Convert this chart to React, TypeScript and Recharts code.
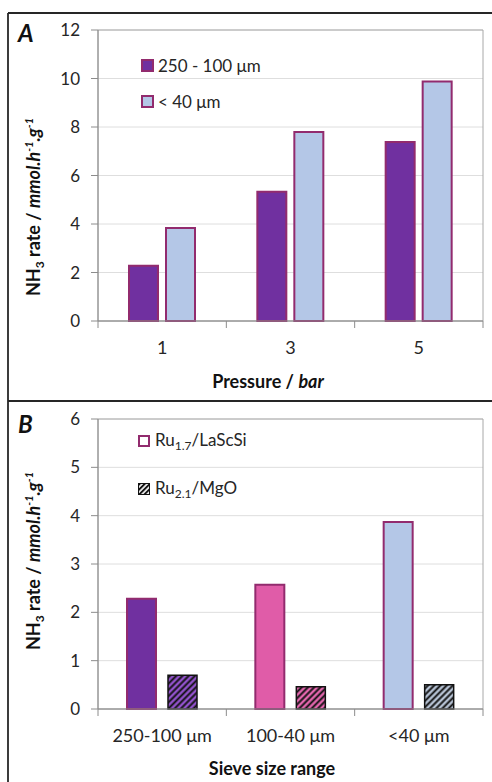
import React from 'react';
import { BarChart, Bar, XAxis, YAxis, CartesianGrid, Legend, ReferenceArea, Cell } from 'recharts';

// ---------- data ----------
const pressureLabels = ['1', '3', '5'];
const coarseRates = [2.28, 5.33, 7.38];
const fineRates = [3.83, 7.79, 9.88];
const rateTicksA = [0, 2, 4, 6, 8, 10, 12];

const sieveRanges = ['250-100 μm', '100-40 μm', '<40 μm'];
const laScSiRates = [2.28, 2.57, 3.87];
const mgoRates = [0.7, 0.46, 0.5];
const rateTicksB = [0, 1, 2, 3, 4, 5, 6];

const seriesNamesA = ['250 - 100 μm', '< 40 μm'];
const seriesNamesB = ['Ru1.7/LaScSi', 'Ru2.1/MgO'];

const dataA = pressureLabels.map((p, i) => ({ pressure: p, coarse: coarseRates[i], fine: fineRates[i] }));
const dataB = sieveRanges.map((s, i) => ({ range: s, lascsi: laScSiRates[i], mgo: mgoRates[i] }));

// ---------- styles ----------
const FONT = 'Lato, "Open Sans", sans-serif';
const PURPLE = '#7030A0';
const LIGHT = '#B4C7E7';
const PINK = '#E05CA8';
const MAROON = '#922B6E';
const sieveFills = [PURPLE, PINK, LIGHT];
const hatchBases = ['#9252CC', '#E466AE', '#B6C2D4'];
const AXIS = '#8C8C8C';
const GRID = '#DEDEDE';
const TEXT = '#262626';

const makeCatTick = (count: number) => (props: any) => {
  const { x, y, payload, index } = props;
  const half = payload && typeof payload.offset === 'number' && payload.offset > 0 ? payload.offset : 64.2;
  return (
    <g>
      <line x1={x - half} x2={x - half} y1={y} y2={y + 7} stroke={AXIS} strokeWidth={1} />
      {index === count - 1 && <line x1={x + half} x2={x + half} y1={y} y2={y + 7} stroke={AXIS} strokeWidth={1} />}
      <text x={x} y={y + 33} textAnchor="middle" fontFamily={FONT} fontSize={18} fill={TEXT}>
        {payload.value}
      </text>
    </g>
  );
};

const YTitle = ({ cx, cy }: { cx: number; cy: number }) => (
  <text
    transform={`translate(${cx},${cy}) rotate(-90)`}
    textAnchor="middle"
    fontFamily={FONT}
    fontWeight={700}
    fontSize={18}
    fill="#111"
  >
    <tspan>NH</tspan>
    <tspan fontSize={12} dy={4}>3</tspan>
    <tspan dy={-4}> rate / </tspan>
    <tspan fontStyle="italic">mmol.h</tspan>
    <tspan fontStyle="italic" fontSize={11} dy={-7}>-1</tspan>
    <tspan fontStyle="italic" dy={7}>.g</tspan>
    <tspan fontStyle="italic" fontSize={11} dy={-7}>-1</tspan>
  </text>
);

const XTitleA = () => (
  <text x={268} y={388} textAnchor="middle" fontFamily={FONT} fontWeight={700} fontSize={18} fill="#111">
    <tspan>Pressure / </tspan>
    <tspan fontStyle="italic">bar</tspan>
  </text>
);

const XTitleB = () => (
  <text x={272} y={374} textAnchor="middle" fontFamily={FONT} fontWeight={700} fontSize={18} fill="#111">
    Sieve size range
  </text>
);

const LegendA = (props: any) => {
  const payload = props.payload || [];
  return (
    <div style={{ fontFamily: FONT, fontSize: 17, color: TEXT }}>
      {payload.map((it: any, i: number) => (
        <div key={i} style={{ display: 'flex', alignItems: 'center', height: 36 }}>
          <svg width={13} height={13} style={{ marginRight: 4 }}>
            <rect x={1} y={1} width={11} height={11} fill={i === 0 ? PURPLE : LIGHT} stroke={MAROON} strokeWidth={2} />
          </svg>
          <span style={{ whiteSpace: 'nowrap' }}>{it.value}</span>
        </div>
      ))}
    </div>
  );
};

const LegendB = () => (
  <div style={{ fontFamily: FONT, fontSize: 17, color: TEXT }}>
    <div style={{ display: 'flex', alignItems: 'center', height: 48 }}>
      <svg width={12} height={12} style={{ marginRight: 5 }}>
        <rect x={1} y={1} width={10} height={10} fill="#fff" stroke={MAROON} strokeWidth={2} />
      </svg>
      <span style={{ whiteSpace: 'nowrap' }}>
        Ru<sub style={{ fontSize: 12 }}>1.7</sub>/LaScSi
      </span>
    </div>
    <div style={{ display: 'flex', alignItems: 'center', height: 48 }}>
      <svg width={12} height={12} style={{ marginRight: 5 }}>
        <defs>
          <pattern id="hatchLegend" patternUnits="userSpaceOnUse" width={3.6} height={3.6} patternTransform="rotate(45)">
            <rect width={3.6} height={3.6} fill="#fff" />
            <line x1={1.8} y1={0} x2={1.8} y2={3.6} stroke="#111" strokeWidth={2} />
          </pattern>
        </defs>
        <rect x={0.5} y={0.5} width={11} height={11} fill="url(#hatchLegend)" stroke="#111" strokeWidth={1} />
      </svg>
      <span style={{ whiteSpace: 'nowrap' }}>
        Ru<sub style={{ fontSize: 12 }}>2.1</sub>/MgO
      </span>
    </div>
  </div>
);

const tickStyle = { fontFamily: FONT, fontSize: 17, fill: TEXT };

export default function App() {
  return (
    <div style={{ position: 'absolute', left: 0, top: 0, width: 492, height: 782, background: '#fff', overflow: 'hidden' }}>
      {/* Panel A */}
      <div style={{ position: 'absolute', left: 0, top: 0 }}>
        <BarChart width={492} height={401} data={dataA} margin={{ top: 30, right: 9, bottom: 0, left: 0 }} barGap={8}>
          <CartesianGrid horizontal vertical={false} stroke={GRID} />
          <ReferenceArea y1={0} y2={12} fill="none" stroke="#A8A8A8" strokeWidth={1} ifOverflow="visible" />
          <XAxis
            dataKey="pressure"
            height={80}
            axisLine={{ stroke: AXIS }}
            tickLine={false}
            tickSize={0}
            tickMargin={0}
            interval={0}
            tick={makeCatTick(pressureLabels.length)}
            label={<XTitleA />}
          />
          <YAxis
            width={98}
            domain={[0, 12]}
            ticks={rateTicksA}
            interval={0}
            axisLine={{ stroke: AXIS }}
            tickLine={{ stroke: AXIS }}
            tickSize={7}
            tickMargin={11}
            tick={tickStyle}
            label={<YTitle cx={40} cy={207} />}
          />
          <Legend
            layout="horizontal"
            verticalAlign="middle"
            align="center"
            content={<LegendA />}
            wrapperStyle={{ top: 47, left: 141, width: 200, height: 72 }}
          />
          <Bar dataKey="coarse" name={seriesNamesA[0]} fill={PURPLE} stroke={MAROON} strokeWidth={2} barSize={29} isAnimationActive={false} />
          <Bar dataKey="fine" name={seriesNamesA[1]} fill={LIGHT} stroke={MAROON} strokeWidth={2} barSize={29} isAnimationActive={false} />
        </BarChart>
      </div>

      {/* Panel B */}
      <div style={{ position: 'absolute', left: 0, top: 401 }}>
        <BarChart width={492} height={381} data={dataB} margin={{ top: 18, right: 9, bottom: 0, left: 0 }} barGap={12}>
          <defs>
            {hatchBases.map((c, i) => (
              <pattern key={i} id={`hatch${i}`} patternUnits="userSpaceOnUse" width={4.4} height={4.4} patternTransform="rotate(45)">
                <rect width={4.4} height={4.4} fill={c} />
                <line x1={2.2} y1={0} x2={2.2} y2={4.4} stroke="#111" strokeWidth={1.9} />
              </pattern>
            ))}
          </defs>
          <CartesianGrid horizontal vertical={false} stroke={GRID} />
          <ReferenceArea y1={0} y2={6} fill="none" stroke="#A8A8A8" strokeWidth={1} ifOverflow="visible" />
          <XAxis
            dataKey="range"
            height={73}
            axisLine={{ stroke: AXIS }}
            tickLine={false}
            tickSize={0}
            tickMargin={0}
            interval={0}
            tick={makeCatTick(sieveRanges.length)}
            label={<XTitleB />}
          />
          <YAxis
            width={98}
            domain={[0, 6]}
            ticks={rateTicksB}
            interval={0}
            axisLine={{ stroke: AXIS }}
            tickLine={{ stroke: AXIS }}
            tickSize={7}
            tickMargin={11}
            tick={tickStyle}
            label={<YTitle cx={40} cy={160} />}
          />
          <Legend
            layout="horizontal"
            verticalAlign="middle"
            align="center"
            content={<LegendB />}
            wrapperStyle={{ top: 16, left: 138, width: 200, height: 96 }}
          />
          <Bar dataKey="lascsi" name={seriesNamesB[0]} stroke={MAROON} strokeWidth={2} barSize={29} isAnimationActive={false}>
            {dataB.map((_, i) => (
              <Cell key={i} fill={sieveFills[i]} />
            ))}
          </Bar>
          <Bar dataKey="mgo" name={seriesNamesB[1]} stroke="#111" strokeWidth={1.5} barSize={29} isAnimationActive={false}>
            {dataB.map((_, i) => (
              <Cell key={i} fill={`url(#hatch${i})`} />
            ))}
          </Bar>
        </BarChart>
      </div>

      {/* Frame and panel letters */}
      <svg width={492} height={782} style={{ position: 'absolute', left: 0, top: 0, pointerEvents: 'none' }}>
        <line x1={8} y1={13} x2={492} y2={13} stroke="#262626" strokeWidth={1.8} />
        <line x1={8} y1={13} x2={8} y2={782} stroke="#262626" strokeWidth={1.8} />
        <line x1={8} y1={401} x2={492} y2={401} stroke="#262626" strokeWidth={2} />
        <text x={18} y={42} fontFamily={FONT} fontWeight={700} fontStyle="italic" fontSize={24} fill="#111">A</text>
        <text x={18} y={433} fontFamily={FONT} fontWeight={700} fontStyle="italic" fontSize={24} fill="#111">B</text>
      </svg>
    </div>
  );
}
